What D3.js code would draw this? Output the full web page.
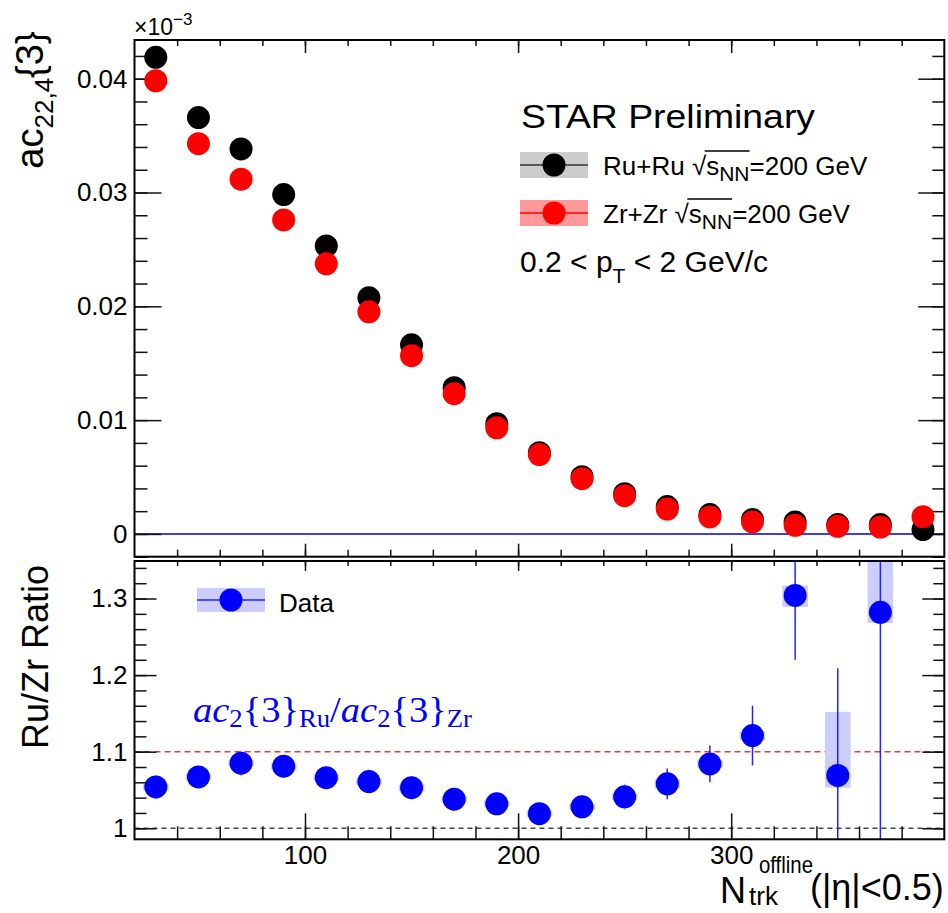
<!DOCTYPE html>
<html>
<head>
<meta charset="utf-8">
<script src="https://cdn.jsdelivr.net/npm/d3@7"></script>
<style>
body { margin: 0; background: #fff; }
svg text { font-family: "Liberation Sans", Arial, Helvetica, sans-serif; fill: #000; }
</style>
</head>
<body>
<div id="vis"></div>
<script>
// multiplicity bins
const nTrk = [30, 50, 70, 90, 110, 130, 150, 170, 190, 210, 230, 250, 270, 290, 310, 330, 350, 370, 390];
// ac_{22,4}{3} (x 10^-3 in the figure)
const acRu = [0.04188, 0.03658, 0.03383, 0.02982, 0.02531, 0.02075, 0.01662, 0.01285, 0.00969, 0.00714,
              0.00503, 0.00354, 0.0024, 0.0017, 0.00126, 0.00105, 0.00082, 0.00082, 0.00038];
const acZr = [0.03982, 0.03429, 0.03117, 0.02759, 0.02373, 0.01952, 0.01566, 0.01232, 0.00933, 0.00697,
              0.00486, 0.00336, 0.00219, 0.00149, 0.00105, 0.00076, 0.00067, 0.00061, 0.00152];

// Ru/Zr ratio
const ratioN = [30, 50, 70, 90, 110, 130, 150, 170, 190, 210, 230, 250, 270, 290, 310, 330, 350, 370];
const ratio = [1.054, 1.067, 1.085, 1.081, 1.066, 1.061, 1.053, 1.038, 1.032, 1.019,
               1.028, 1.041, 1.058, 1.084, 1.121, 1.304, 1.069, 1.282];
const ratioStat = [0.016, 0.015, 0.017, 0.015, 0.014, 0.016, 0.015, 0.015, 0.015, 0.015,
                   0.015, 0.017, 0.02, 0.024, 0.039, 0.084, 0.14, 0.35];
const ratioSysLo = [1.050, 1.063, 1.081, 1.077, 1.062, 1.057, 1.049, 1.034, 1.028, 1.015,
                    1.024, 1.037, 1.052, 1.079, 1.116, 1.289, 1.053, 1.268];
const ratioSysHi = [1.058, 1.071, 1.089, 1.085, 1.070, 1.065, 1.057, 1.042, 1.036, 1.023,
                    1.032, 1.045, 1.064, 1.089, 1.126, 1.317, 1.152, 1.40];

// ticks
const xMajor = [100, 200, 300];
const xMinor = d3.range(40, 400, 20);
const yTopMajor = [0, 0.01, 0.02, 0.03, 0.04];
const yTopMinor = d3.range(-0.002, 0.0431, 0.002);
const yBotMajor = [1, 1.1, 1.2, 1.3];
const yBotMinor = d3.range(0.98, 1.35, 0.02);

const W = 948, H = 913;
const L = 134.5, R = 944.3;
const topT = 40, topB = 556.7, botT = 561, botB = 839.3;

const svg = d3.select("#vis").append("svg")
    .attr("width", W)
    .attr("height", H);

const x = d3.scaleLinear().domain([20, 400]).range([L, R]);
const yTop = d3.scaleLinear().domain([-0.002, 0.0434]).range([topB, topT]);
const yBot = d3.scaleLinear().domain([0.9856, 1.349]).range([botB, botT]);

const tickStyle = g => {
    g.select(".domain").remove();
    g.selectAll(".tick line").attr("stroke", "#111").attr("stroke-width", 1.5);
    g.selectAll(".tick text").attr("font-size", 26).attr("fill", "#000")
        .style("font-family", '"Liberation Sans", Arial, sans-serif');
};

function drawAxes(yScale, yMaj, yMin, y0, y1, fmt, opt) {
    const g = svg.append("g");
    const inside = yMin.filter(v => yScale(v) >= y0 && yScale(v) <= y1);
    // left
    g.append("g").attr("transform", `translate(${L},0)`)
        .call(d3.axisLeft(yScale).tickValues(inside).tickSize(-opt.lMin).tickFormat(""))
        .call(tickStyle);
    g.append("g").attr("transform", `translate(${L},0)`)
        .call(d3.axisLeft(yScale).tickValues(yMaj).tickSize(-opt.lMaj).tickPadding(7).tickFormat(fmt))
        .call(tickStyle);
    // right
    g.append("g").attr("transform", `translate(${R},0)`)
        .call(d3.axisRight(yScale).tickValues(inside).tickSize(-opt.rMin).tickFormat(""))
        .call(tickStyle);
    g.append("g").attr("transform", `translate(${R},0)`)
        .call(d3.axisRight(yScale).tickValues(yMaj).tickSize(-opt.rMaj).tickFormat(""))
        .call(tickStyle);
    // top
    g.append("g").attr("transform", `translate(0,${y0})`)
        .call(d3.axisTop(x).tickValues(xMinor).tickSize(-opt.tMin).tickFormat(""))
        .call(tickStyle);
    g.append("g").attr("transform", `translate(0,${y0})`)
        .call(d3.axisTop(x).tickValues(xMajor).tickSize(-opt.tMaj).tickFormat(""))
        .call(tickStyle);
    // bottom
    g.append("g").attr("transform", `translate(0,${y1})`)
        .call(d3.axisBottom(x).tickValues(xMinor).tickSize(-opt.bMin).tickFormat(""))
        .call(tickStyle);
    g.append("g").attr("transform", `translate(0,${y1})`)
        .call(d3.axisBottom(x).tickValues(xMajor).tickSize(-opt.bMaj).tickPadding(6)
            .tickFormat(opt.xLabels ? d3.format("d") : ""))
        .call(tickStyle);
    // frame
    g.append("rect")
        .attr("x", L).attr("y", y0)
        .attr("width", R - L).attr("height", y1 - y0)
        .attr("fill", "none").attr("stroke", "#000").attr("stroke-width", 2);
}

// ---------- top panel ----------
svg.append("line")
    .attr("x1", L).attr("x2", R)
    .attr("y1", yTop(0)).attr("y2", yTop(0))
    .attr("stroke", "#0000cc").attr("stroke-width", 1.5);

drawAxes(yTop, yTopMajor, yTopMinor, topT, topB,
    d => d === 0 ? "0" : d3.format(".2f")(d),
    {lMin: 13, lMaj: 27, rMin: 12, rMaj: 26, tMin: 6, tMaj: 13, bMin: 7, bMaj: 13, xLabels: false});

const topPts = svg.append("g");
topPts.selectAll("circle.ru")
    .data(nTrk.map((n, i) => [n, acRu[i]]))
    .enter().append("circle")
    .attr("class", "ru")
    .attr("cx", d => x(d[0])).attr("cy", d => yTop(d[1]))
    .attr("r", 11.5).attr("fill", "#000");
topPts.selectAll("circle.zr")
    .data(nTrk.map((n, i) => [n, acZr[i]]))
    .enter().append("circle")
    .attr("class", "zr")
    .attr("cx", d => x(d[0])).attr("cy", d => yTop(d[1]))
    .attr("r", 11.5).attr("fill", "#ff0000");

// x10^-3
const ex = svg.append("text").attr("x", 134).attr("y", 35).attr("font-size", 23);
ex.append("tspan").text("×10");
ex.append("tspan").attr("font-size", 17).attr("dy", -10).text("−3");

// y title top
const yt = svg.append("text")
    .attr("transform", "translate(43,100) rotate(-90)")
    .attr("text-anchor", "middle")
    .attr("font-size", 38);
yt.append("tspan").text("ac");
yt.append("tspan").attr("font-size", 26).attr("dy", 10).text("22,4");
yt.append("tspan").attr("dy", -10).text("{3}");

// legend top
svg.append("text").attr("x", 521).attr("y", 128).attr("font-size", 34)
    .attr("textLength", 294).attr("lengthAdjust", "spacingAndGlyphs")
    .text("STAR Preliminary");

const legTop = [
    {label: "Ru+Ru", y: 165, box: "#cccccc", line: "#333", fill: "#000"},
    {label: "Zr+Zr", y: 213, box: "#ff9999", line: "#ff0000", fill: "#ff0000"}
];
legTop.forEach(e => {
    const g = svg.append("g");
    g.append("rect").attr("x", 520).attr("y", e.y - 13).attr("width", 68).attr("height", 26).attr("fill", e.box);
    g.append("line").attr("x1", 520).attr("x2", 588).attr("y1", e.y).attr("y2", e.y)
        .attr("stroke", e.line).attr("stroke-width", 1.5);
    g.append("circle").attr("cx", 554).attr("cy", e.y).attr("r", 11.5).attr("fill", e.fill);
    const t = g.append("text").attr("x", 603).attr("y", e.y + 10).attr("font-size", 26);
    t.append("tspan").text(e.label + " ");
    t.append("tspan").text("√");
    t.append("tspan").text("s");
    t.append("tspan").attr("font-size", 21).attr("dy", 6).text("NN");
    t.append("tspan").attr("dy", -6).text("=200 GeV");
    const n0 = e.label.length + 1;
    const node = t.node();
    const xa = node.getEndPositionOfChar(n0).x - 1.5;
    const xb = node.getEndPositionOfChar(n0 + 3).x;
    g.append("line").attr("x1", xa).attr("x2", xb)
        .attr("y1", e.y - 14).attr("y2", e.y - 14)
        .attr("stroke", "#000").attr("stroke-width", 1.3);
});

const pt = svg.append("text").attr("x", 520).attr("y", 272).attr("font-size", 30);
pt.append("tspan").text("0.2 < p");
pt.append("tspan").attr("font-size", 21).attr("dy", 11).text("T");
pt.append("tspan").attr("dy", -11).text(" < 2 GeV/c");

// ---------- bottom panel ----------
svg.append("defs").append("clipPath").attr("id", "clipBot")
    .append("rect").attr("x", L).attr("y", botT).attr("width", R - L).attr("height", botB - botT);

svg.append("line")
    .attr("x1", L).attr("x2", R).attr("y1", yBot(1.1)).attr("y2", yBot(1.1))
    .attr("stroke", "#ff3333").attr("stroke-width", 1.5).attr("stroke-dasharray", "6,4");
svg.append("line")
    .attr("x1", L).attr("x2", R).attr("y1", yBot(1.0)).attr("y2", yBot(1.0))
    .attr("stroke", "#444").attr("stroke-width", 1.3).attr("stroke-dasharray", "5,4");

const bot = svg.append("g").attr("clip-path", "url(#clipBot)");
const rData = ratioN.map((n, i) => ({n, v: ratio[i], e: ratioStat[i], lo: ratioSysLo[i], hi: ratioSysHi[i]}));

bot.selectAll("rect.sys").data(rData).enter().append("rect")
    .attr("class", "sys")
    .attr("x", d => x(d.n - 6)).attr("width", d => x(d.n + 6) - x(d.n - 6))
    .attr("y", d => yBot(d.hi)).attr("height", d => yBot(d.lo) - yBot(d.hi))
    .attr("fill", "#ccccff");
bot.selectAll("line.err").data(rData).enter().append("line")
    .attr("class", "err")
    .attr("x1", d => x(d.n)).attr("x2", d => x(d.n))
    .attr("y1", d => yBot(d.v - d.e)).attr("y2", d => yBot(d.v + d.e))
    .attr("stroke", d => d.e < 0.02 ? "#aaaaff" : "#2222ff").attr("stroke-width", 1.5);
bot.selectAll("circle.rat").data(rData).enter().append("circle")
    .attr("class", "rat")
    .attr("cx", d => x(d.n)).attr("cy", d => yBot(d.v))
    .attr("r", 11.5).attr("fill", "#0000ff");

drawAxes(yBot, yBotMajor, yBotMinor, botT, botB,
    d => String(+d.toFixed(2)),
    {lMin: 12, lMaj: 22, rMin: 11, rMaj: 22, tMin: 5, tMaj: 10, bMin: 13, bMaj: 26, xLabels: true});

// legend bottom
svg.append("rect").attr("x", 197).attr("y", 588).attr("width", 68).attr("height", 24).attr("fill", "#ccccff");
svg.append("line").attr("x1", 197).attr("x2", 265).attr("y1", 600).attr("y2", 600)
    .attr("stroke", "#2222ff").attr("stroke-width", 1.5);
svg.append("circle").attr("cx", 231).attr("cy", 600).attr("r", 11.5).attr("fill", "#0000ff");
svg.append("text").attr("x", 279).attr("y", 612).attr("font-size", 26).text("Data");

// formula
const fm = svg.append("text").attr("x", 193).attr("y", 722).attr("font-size", 36)
    .attr("textLength", 279).attr("lengthAdjust", "spacingAndGlyphs")
    .style("font-family", '"Liberation Serif", "DejaVu Serif", serif')
    .style("fill", "#0000ff");
fm.append("tspan").attr("font-style", "italic").text("ac");
fm.append("tspan").attr("font-size", 25).attr("dy", 5).text("2");
fm.append("tspan").attr("dy", -5).text("{3}");
fm.append("tspan").attr("font-size", 25).attr("dy", 5).text("Ru");
fm.append("tspan").attr("dy", -5).text("/");
fm.append("tspan").attr("font-style", "italic").text("ac");
fm.append("tspan").attr("font-size", 25).attr("dy", 5).text("2");
fm.append("tspan").attr("dy", -5).text("{3}");
fm.append("tspan").attr("font-size", 25).attr("dy", 5).text("Zr");

// y title bottom
svg.append("text")
    .attr("transform", "translate(48,657) rotate(-90)")
    .attr("text-anchor", "middle")
    .attr("font-size", 36)
    .text("Ru/Zr Ratio");

// x title
svg.append("text").attr("x", 720).attr("y", 903).attr("font-size", 37)
    .attr("textLength", 26).attr("lengthAdjust", "spacingAndGlyphs").text("N");
svg.append("text").attr("x", 759).attr("y", 873).attr("font-size", 24)
    .attr("textLength", 54).attr("lengthAdjust", "spacingAndGlyphs").text("offline");
svg.append("text").attr("x", 749).attr("y", 905).attr("font-size", 26).text("trk");
svg.append("text").attr("x", 810).attr("y", 900).attr("font-size", 36).text("(|η|<0.5)");
</script>
</body>
</html>
